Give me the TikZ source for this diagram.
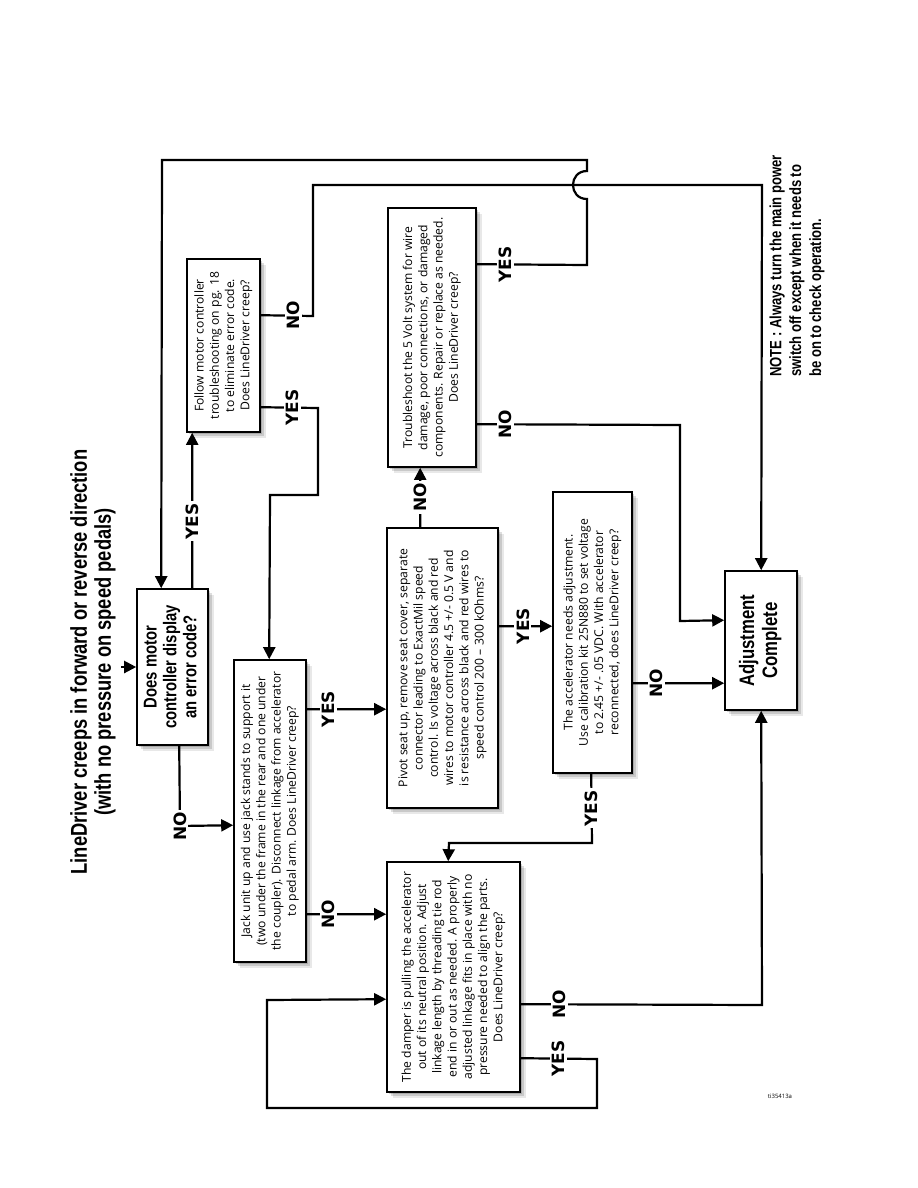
\documentclass[tikz,border=0pt]{standalone}
\usepackage{fontspec}
\setmainfont{Open Sans}
\newfontfamily\condfont[FakeStretch=0.8]{Liberation Sans Bold}
\newfontfamily\lblfont{DejaVu Sans Bold}
\usetikzlibrary{arrows.meta,calc}
\newcommand\bt{\fontsize{12.2}{15.3}\selectfont}
\newcommand\rt[1]{\rotatebox{90}{\begin{tabular}{@{}c@{}}#1\end{tabular}}}
\begin{document}
\begin{tikzpicture}[x=1bp,y=-1bp,
  box/.style={draw, line width=1.6bp, fill=white, inner sep=0pt, font=\bt,
    preaction={fill=black, opacity=.16, transform canvas={shift={(2bp,-2bp)}}},
    preaction={fill=black, opacity=.13, transform canvas={shift={(4bp,-4bp)}}},
    preaction={fill=black, opacity=.09, transform canvas={shift={(6bp,-6bp)}}}},
  conn/.style={line width=2.2bp, -{Triangle[length=12bp,width=12bp]}},
  lbl/.style={fill=white, inner sep=2bp, rotate=90, font=\lblfont\fontsize{17}{18}\selectfont},
]
\useasboundingbox[fill=white] (0,0) rectangle (918,1188);

% title
\node[rotate=90, align=center, font=\condfont\fontsize{23}{24}\selectfont] (title) at (93,662)
  {LineDriver creeps in forward or reverse direction\\(with no pressure on speed pedals)};

% note
\node[rotate=90, align=left, font=\condfont\fontsize{16.4}{20}\selectfont] (note) at (797,266)
  {NOTE : Always turn the main power\\switch off except when it needs to\\be on to check operation.};

\node (ref) at (780,1096) {\fontsize{6}{7}\selectfont ti35413a};

% boxes
\node[box, minimum width=71bp, minimum height=156bp] (A) at (172.5,667)
  {\rotatebox{90}{\condfont\fontsize{18.6}{20}\selectfont\begin{tabular}{@{}c@{}}Does motor\\controller display\\an error code?\end{tabular}}};
\node[box, minimum width=73bp, minimum height=173bp] (B) at (223.5,345.5)
  {\rt{Follow motor controller\\troubleshooting on pg. 18\\to eliminate error code.\\Does LineDriver creep?}};
\node[box, minimum width=72bp, minimum height=302bp] (C) at (270,811)
  {\rt{Jack unit up and use jack stands to support it\\(two under the frame in the rear and one under\\the coupler). Disconnect linkage from accelerator\\to pedal arm. Does LineDriver creep?}};
\node[box, minimum width=72bp, minimum height=139bp] (D) at (761,640.5)
  {\rotatebox{90}{\condfont\fontsize{21}{23}\selectfont\begin{tabular}{@{}c@{}}Adjustment\\Complete\end{tabular}}};
\node[box, minimum width=88bp, minimum height=259bp] (E) at (432,337.5)
  {\rt{Troubleshoot the 5 Volt system for wire\\damage, poor connections, or damaged\\components. Repair or replace as needed.\\Does LineDriver creep?}};
\node[box, minimum width=111bp, minimum height=280bp] (F) at (442.5,668)
  {\rt{Pivot seat up, remove seat cover, separate\\connector leading to ExactMil speed\\control. Is voltage across black and red\\wires to motor controller 4.5 +/- 0.5 V and\\is resistance across black and red wires to\\speed control 200 -- 300 kOhms?}};
\node[box, minimum width=79bp, minimum height=281bp] (G) at (592.5,632.5)
  {\rt{The accelerator needs adjustment.\\Use calibration kit 25N880 to set voltage\\to 2.45 +/- .05 VDC. With accelerator\\reconnected, does LineDriver creep?}};
\node[box, minimum width=133bp, minimum height=230bp] (H) at (453.5,977)
  {\rt{The damper is pulling the accelerator\\out of its neutral position. Adjust\\linkage length by threading tie rod\\end in or out as needed. A properly\\adjusted linkage fits in place with no\\pressure needed to align the parts.\\Does LineDriver creep?}};

% connectors
\coordinate (start) at (121,667);
\draw[conn] (start) -- (A.west);
\draw[conn] ($(A.north west)+(56,0)$) -- node[lbl,pos=.43]{YES} ($(B.south west)+(6,0)$);
\draw[conn] ($(A.south west)+(43,0)$) -- (180,826) node[lbl]{NO} -- ($(C.north west)+(0,166)$);
\draw[conn] ($(B.north east)+(0,149)$) -- node[lbl,pos=.55]{YES} (318,408) -- (318,495) -- (270,495) -- ($(C.north west)+(36,0)$);
\draw[conn] ($(B.north east)+(0,57)$) -- node[lbl,pos=.62]{NO} (313,316) -- (313,185) -- (762,185) -- ($(D.north west)+(37,0)$);
\draw[conn] ($(E.north east)+(0,57)$) -- node[lbl,pos=.26]{YES} (587,265) -- (587,199)
  .. controls (568.3,199) and (568.3,171) .. (587,171) -- (587,160) -- (162,160) -- ($(A.north west)+(25,0)$);
\draw[conn] ($(E.north east)+(0,217)$) -- node[lbl,pos=.14]{NO} (680,425) -- (680,621) -- ($(D.north west)+(0,50)$);
\draw[conn] ($(F.north west)+(34,0)$) -- node[lbl,pos=.5]{NO} ($(E.south west)+(33,0)$);
\draw[conn] ($(F.north east)+(0,99)$) -- node[lbl,pos=.45]{YES} ($(G.north west)+(0,135)$);
\draw[conn] ($(G.north east)+(0,192)$) -- node[lbl,pos=.26]{NO} ($(D.north west)+(0,113)$);
\draw[conn] ($(G.south west)+(39,0)$) -- node[lbl,pos=.5]{YES} (592,843) -- (449,843) -- ($(H.north west)+(62,0)$);
\draw[conn] ($(C.north east)+(0,50)$) -- node[lbl,pos=.27]{YES} ($(F.north west)+(0,182)$);
\draw[conn] ($(C.north east)+(0,255)$) -- node[lbl,pos=.27]{NO} ($(H.north west)+(0,53)$);
\draw[conn] ($(H.north east)+(0,143)$) -- node[lbl,pos=.16]{NO} (762,1005) -- ($(D.south west)+(37,0)$);
\draw[conn] ($(H.north east)+(0,197)$) -- node[lbl,pos=.49]{YES} (597,1059) -- (597,1108) -- (267,1108) -- (267,1000) -- ($(H.north west)+(0,138)$);
\end{tikzpicture}
\end{document}
